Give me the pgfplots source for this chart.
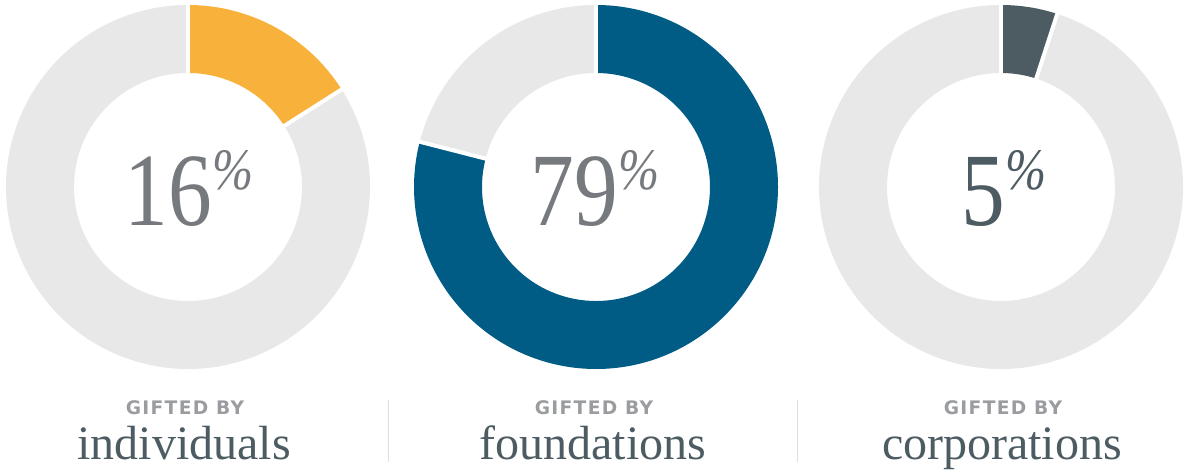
\documentclass[border=0pt]{standalone}
\usepackage{fontspec}
\setmainfont{Liberation Serif}
\newfontfamily\numfont[FakeStretch=0.84]{Liberation Serif}
\newfontfamily\gsans[LetterSpace=7]{DejaVu Sans Bold}
\usepackage{pgfplots}
\usepackage{pgfplotstable}
\pgfplotsset{compat=1.18}
\definecolor{cyel}{HTML}{F8B13A}
\definecolor{cblue}{HTML}{005C84}
\definecolor{cslate}{HTML}{4D5B63}
\definecolor{cring}{HTML}{E8E8E8}
\definecolor{cnum}{HTML}{76797D}
\definecolor{cgift}{HTML}{9A9C9F}
\definecolor{csep}{HTML}{DEDEDE}
\pgfplotstableread{
name value cx cy
individuals 16 188 283
foundations 79 596 283
corporations 5 1001 283
}\donutdata
\pgfplotstablegetelem{0}{value}\of\donutdata \let\vA\pgfplotsretval
\pgfplotstablegetelem{1}{value}\of\donutdata \let\vB\pgfplotsretval
\pgfplotstablegetelem{2}{value}\of\donutdata \let\vC\pgfplotsretval
\pgfmathsetmacro\eA{90-3.6*\vA}
\pgfmathsetmacro\eB{90-3.6*\vB}
\pgfmathsetmacro\eC{90-3.6*\vC}
\def\Ro{136.5pt}
\def\Ri{85.5pt}
% cx cy endangle colour
\newcommand{\donut}[4]{%
  \fill[#4] ([shift={(90:\Ro)}]axis cs:#1,#2) arc[start angle=90,end angle=#3,radius=\Ro]
     -- ([shift={(#3:\Ri)}]axis cs:#1,#2) arc[start angle=#3,end angle=90,radius=\Ri] -- cycle;
  \fill[cring] ([shift={(#3:\Ro)}]axis cs:#1,#2) arc[start angle=#3,end angle=-270,radius=\Ro]
     -- ([shift={(-270:\Ri)}]axis cs:#1,#2) arc[start angle=-270,end angle=#3,radius=\Ri] -- cycle;
  \draw[white,line width=3pt] ([shift={(90:83pt)}]axis cs:#1,#2) -- ([shift={(90:139pt)}]axis cs:#1,#2);
  \draw[white,line width=3pt] ([shift={(#3:83pt)}]axis cs:#1,#2) -- ([shift={(#3:139pt)}]axis cs:#1,#2);
}
\newcommand{\bignum}[1]{{\numfont\fontsize{78}{78}\selectfont #1\kern0.5pt\raisebox{27pt}{\fontsize{44}{44}\selectfont\itshape\%}}}
\newcommand{\gift}{{\gsans\fontsize{14}{14}\selectfont GIFTED BY}}
\newcommand{\lab}[1]{{\fontsize{36}{36}\selectfont #1}}
\begin{document}
\begin{tikzpicture}
\begin{axis}[x=0.75pt,y=0.75pt,xmin=0,xmax=1188,ymin=0,ymax=470,
  enlargelimits=false,hide axis,clip=false]
\coordinate (ll) at (axis cs:0,0);
\coordinate (ur) at (axis cs:1188,470);
\donut{188}{283}{\eA}{cyel}
\donut{596}{283}{\eB}{cblue}
\donut{1001}{283}{\eC}{cslate}
\node[anchor=base,text=cnum,inner sep=0pt] at (axis cs:189,244) {\bignum{\vA}};
\node[anchor=base,text=cnum,inner sep=0pt] at (axis cs:595,244) {\bignum{\vB}};
\node[anchor=base,text=cslate,inner sep=0pt] at (axis cs:1004,244) {\bignum{\vC}};
\node[anchor=base,text=cgift,inner sep=0pt] at (axis cs:185,55) {\gift};
\node[anchor=base,text=cgift,inner sep=0pt] at (axis cs:594,55) {\gift};
\node[anchor=base,text=cgift,inner sep=0pt] at (axis cs:1003,55) {\gift};
\node[anchor=base,text=cslate,inner sep=0pt] at (axis cs:184,10) {\lab{individuals}};
\node[anchor=base,text=cslate,inner sep=0pt] at (axis cs:593,10) {\lab{foundations}};
\node[anchor=base,text=cslate,inner sep=0pt] at (axis cs:1002,10) {\lab{corporations}};
\draw[csep,line width=0.75pt] (axis cs:388,8) -- (axis cs:388,70);
\draw[csep,line width=0.75pt] (axis cs:797,8) -- (axis cs:797,70);
\end{axis}
\pgfresetboundingbox
\path (ll) rectangle (ur);
\end{tikzpicture}
\end{document}
